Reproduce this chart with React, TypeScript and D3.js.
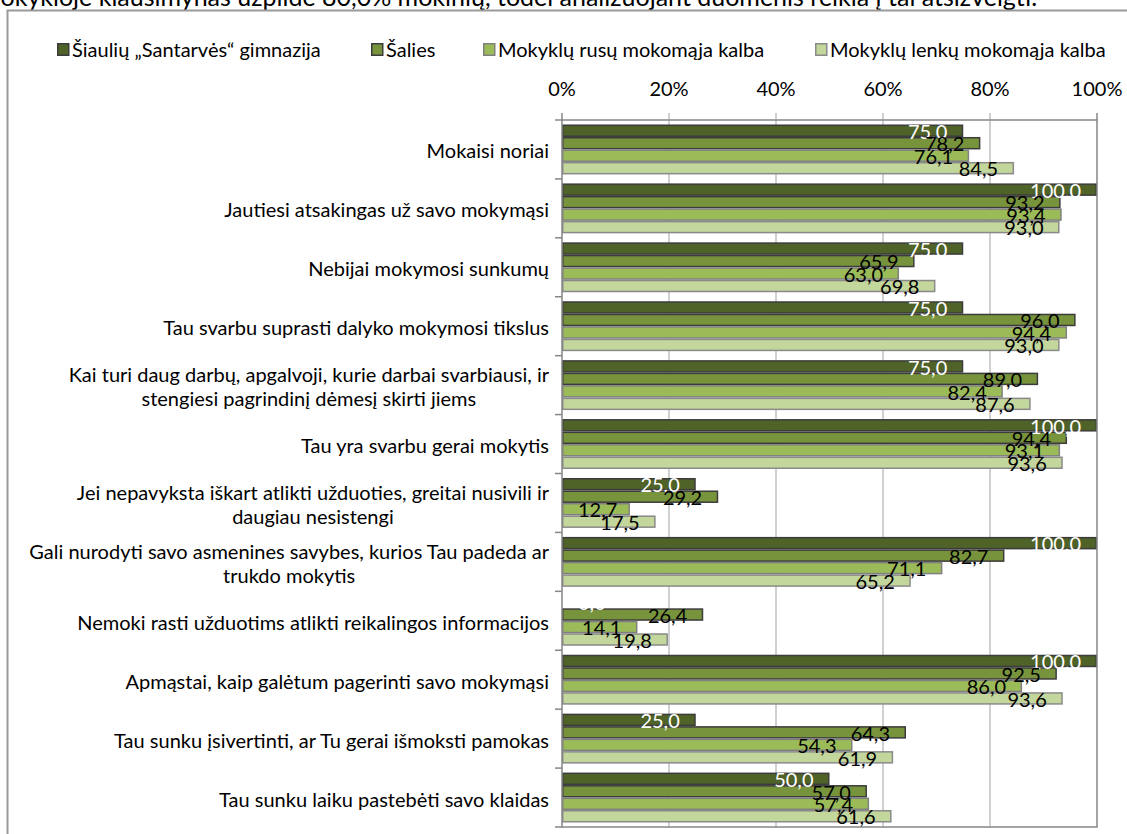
import React, { useEffect, useRef } from "react";
import * as d3 from "d3";

const categories = [
  "Mokaisi noriai",
  "Jautiesi atsakingas už savo mokymąsi",
  "Nebijai mokymosi sunkumų",
  "Tau svarbu suprasti dalyko mokymosi tikslus",
  "Kai turi daug darbų, apgalvoji, kurie darbai svarbiausi, ir\nstengiesi pagrindinį dėmesį skirti jiems",
  "Tau yra svarbu gerai mokytis",
  "Jei nepavyksta iškart atlikti užduoties, greitai nusivili ir\ndaugiau nesistengi",
  "Gali nurodyti savo asmenines savybes, kurios Tau padeda ar\ntrukdo mokytis",
  "Nemoki rasti užduotims atlikti reikalingos informacijos",
  "Apmąstai, kaip galėtum pagerinti savo mokymąsi",
  "Tau sunku įsivertinti, ar Tu gerai išmoksti pamokas",
  "Tau sunku laiku pastebėti savo klaidas",
];

const seriesNames = [
  "Šiaulių „Santarvės“ gimnazija",
  "Šalies",
  "Mokyklų rusų mokomąja kalba",
  "Mokyklų lenkų mokomąja kalba",
];

const santarves = [75.0, 100.0, 75.0, 75.0, 75.0, 100.0, 25.0, 100.0, 0.0, 100.0, 25.0, 50.0];
const salies = [78.2, 93.2, 65.9, 96.0, 89.0, 94.4, 29.2, 82.7, 26.4, 92.5, 64.3, 57.0];
const rusu = [76.1, 93.4, 63.0, 94.4, 82.4, 93.1, 12.7, 71.1, 14.1, 86.0, 54.3, 57.4];
const lenku = [84.5, 93.0, 69.8, 93.0, 87.6, 93.6, 17.5, 65.2, 19.8, 93.6, 61.9, 61.6];

const xTicks = [0, 20, 40, 60, 80, 100];

const headerText =
  "mokykloje klausimynas užpildė 80,0% mokinių, todėl analizuojant duomenis reikia į tai atsižvelgti.";

const fills = ["#4f6228", "#77933c", "#9bbb59", "#c3d69b"];
const strokes = ["#3c3c3c", "#3c3c3c", "#808080", "#8a8a8a"];
const labelColors = ["#ffffff", "#000000", "#000000", "#000000"];

const W = 1127;
const H = 834;
const FONT = "Lato, 'Open Sans', sans-serif";
const FS = 20;

export default function App() {
  const ref = useRef<SVGSVGElement | null>(null);

  useEffect(() => {
    const svg = d3.select(ref.current);
    svg.selectAll("*").remove();

    const seriesValues = [santarves, salies, rusu, lenku];
    const left = 562;
    const right = 1097;
    const top = 120;
    const bottom = 827;

    const x = d3.scaleLinear().domain([0, 100]).range([left, right]);
    const y = d3.scaleBand<string>().domain(categories).range([top, bottom]).paddingInner(0).paddingOuter(0);
    const inner = d3
      .scaleBand<number>()
      .domain([0, 1, 2, 3])
      .range([0, y.bandwidth()])
      .paddingInner(0)
      .paddingOuter(0.36);

    svg.append("rect").attr("x", 0).attr("y", 0).attr("width", W).attr("height", H).attr("fill", "#fff");

    // header text (cut off at the top)
    svg
      .append("text")
      .attr("x", -20)
      .attr("y", 6)
      .attr("font-family", FONT)
      .attr("font-size", 25)
      .attr("fill", "#000")
      .text(headerText);

    // outer frame
    svg
      .append("path")
      .attr("d", `M7.5,${H + 5} L7.5,10.5 L${W + 5},10.5`)
      .attr("fill", "none")
      .attr("stroke", "#9a9a9a")
      .attr("stroke-width", 2);

    // legend
    const legendX = [57, 371, 483, 815];
    const lg = svg.append("g");
    seriesNames.forEach((name, i) => {
      lg.append("rect")
        .attr("x", legendX[i] + 0.75)
        .attr("y", 43.75)
        .attr("width", 11)
        .attr("height", 11.5)
        .attr("fill", fills[i])
        .attr("stroke", strokes[i])
        .attr("stroke-width", 1.5);
      lg.append("text")
        .attr("x", legendX[i] + 15)
        .attr("y", 56.5)
        .attr("font-family", FONT)
        .attr("font-size", FS)
        .attr("fill", "#000")
        .text(name);
    });

    // gridlines
    svg
      .append("g")
      .selectAll("line")
      .data(xTicks)
      .join("line")
      .attr("x1", (d) => x(d))
      .attr("x2", (d) => x(d))
      .attr("y1", top - 7)
      .attr("y2", (d) => (d === 0 || d === 100 ? top : bottom))
      .attr("stroke", (d) => (d === 0 || d === 100 ? "#868686" : "#c0c0c0"))
      .attr("stroke-width", 1.5);

    // x tick labels
    svg
      .append("g")
      .selectAll("text")
      .data(xTicks)
      .join("text")
      .attr("x", (d) => x(d))
      .attr("y", 96)
      .attr("text-anchor", "middle")
      .attr("font-family", FONT)
      .attr("font-size", FS)
      .attr("fill", "#000")
      .text((d) => `${d}%`);

    // bars
    const barsG = svg.append("g");
    categories.forEach((cat, ci) => {
      seriesValues.forEach((vals, si) => {
        const v = vals[ci];
        const y0 = (y(cat) as number) + (inner(si) as number);
        const w = x(v) - x(0);
        if (w <= 0) return;
        barsG
          .append("rect")
          .attr("x", x(0) + 0.75)
          .attr("y", y0 + 0.75)
          .attr("width", Math.max(0, w - 1.5))
          .attr("height", inner.bandwidth() - 1.5)
          .attr("fill", fills[si])
          .attr("stroke", strokes[si])
          .attr("stroke-width", 1.5);
      });
    });

    // plot border
    svg
      .append("rect")
      .attr("x", left)
      .attr("y", top)
      .attr("width", right - left)
      .attr("height", bottom - top)
      .attr("fill", "none")
      .attr("stroke", "#868686")
      .attr("stroke-width", 1.5);

    // category ticks
    const boundaries = categories.map((c) => y(c) as number).concat([bottom]);
    svg
      .append("g")
      .selectAll("line")
      .data(boundaries)
      .join("line")
      .attr("x1", left - 7)
      .attr("x2", left)
      .attr("y1", (d) => d)
      .attr("y2", (d) => d)
      .attr("stroke", "#868686")
      .attr("stroke-width", 1.5);

    // category labels
    const catG = svg.append("g");
    const labelRight = 549;
    const lineH = 24;
    categories.forEach((cat) => {
      const lines = cat.split("\n");
      const cy = (y(cat) as number) + y.bandwidth() / 2 + 2;
      const texts = lines.map((ln, li) =>
        catG
          .append("text")
          .attr("y", cy + (li - (lines.length - 1) / 2) * lineH)
          .attr("dy", "0.35em")
          .attr("font-family", FONT)
          .attr("font-size", FS)
          .attr("fill", "#000")
          .text(ln)
      );
      const widths = texts.map((t) => (t.node() as SVGTextElement).getComputedTextLength());
      const maxW = Math.max(...widths);
      texts.forEach((t) => t.attr("x", labelRight - maxW / 2).attr("text-anchor", "middle"));
    });

    // value labels
    const valG = svg.append("g");
    categories.forEach((cat, ci) => {
      seriesValues.forEach((vals, si) => {
        const v = vals[ci];
        const cy = (y(cat) as number) + (inner(si) as number) + inner.bandwidth() / 2 + 1;
        const t = valG
          .append("text")
          .attr("y", cy)
          .attr("dy", "0.36em")
          .attr("font-family", FONT)
          .attr("font-size", FS)
          .attr("fill", labelColors[si])
          .text(d3.format(".1f")(v).replace(".", ","));
        const tw = (t.node() as SVGTextElement).getComputedTextLength();
        let endX = x(v) - 16;
        if (endX - tw < left + 16) endX = left + 16 + tw;
        t.attr("x", endX).attr("text-anchor", "end");
      });
    });
  }, []);

  return (
    <div style={{ position: "absolute", left: 0, top: 0, width: W, height: H, overflow: "hidden" }}>
      <svg ref={ref} width={W} height={H} style={{ display: "block" }} />
    </div>
  );
}
